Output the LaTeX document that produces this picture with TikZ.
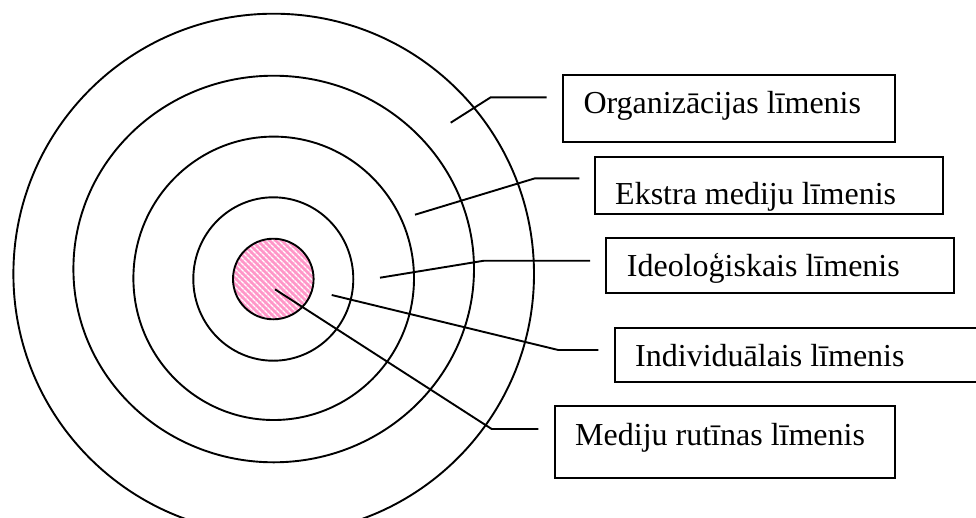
\documentclass[tikz,border=0pt]{standalone}
\usepackage{fontspec}
\setmainfont{Liberation Serif}
\usetikzlibrary{patterns.meta}
\definecolor{pinkfill}{RGB}{255,150,200}
\tikzset{
  ring/.style={draw=black, line width=1.9pt},
  lbox/.style={draw=black, line width=1.9pt, rectangle, inner sep=0pt, anchor=north west},
  lbl/.style={inner sep=0pt, anchor=base west, font=\fontsize{32}{38}\selectfont},
  conn/.style={draw=black, line width=1.9pt, line join=miter}
}
\begin{document}
\begin{tikzpicture}[x=1pt,y=-1pt]
\clip (0,0) rectangle (976,517);
\fill[white] (0,0) rectangle (976,517);
% inner hatched circle
\fill[pinkfill] (273.3,279) circle[radius=40.3pt];
\fill[pattern={Lines[angle=-45,distance=4pt,line width=1.6pt]}, pattern color=white] (273.3,279) circle[radius=40.3pt];
% rings
\draw[ring] (273.7,274) circle[radius=260.3pt];
\draw[ring] (273.7,269) ellipse[x radius=200.3pt, y radius=193.3pt];
\draw[ring] (273.7,278.3) ellipse[x radius=140.3pt, y radius=141.7pt];
\draw[ring] (273.3,279) ellipse[x radius=80pt, y radius=81.7pt];
\draw[ring] (273.3,279) circle[radius=40.3pt];
% boxes
\node[lbox, minimum width=331.7pt, minimum height=66.7pt] (orgbox) at (562.3,74) {};
\node[lbox, minimum width=347.4pt, minimum height=57pt] (ekbox) at (594.3,155.7) {};
\node[lbox, minimum width=347.7pt, minimum height=55pt] (idbox) at (605,237.3) {};
\node[lbox, minimum width=420pt, minimum height=54pt] (inbox) at (614,326.7) {};
\node[lbox, minimum width=340pt, minimum height=72.3pt] (mrbox) at (554,405) {};
% labels
\node[lbl] (orgtxt) at (583.3,113.3) {Organizācijas līmenis};
\node[lbl] (ektxt) at (615,204.3) {Ekstra mediju līmenis};
\node[lbl] (idtxt) at (626.7,276.7) {Ideoloģiskais līmenis};
\node[lbl] (intxt) at (635,366.7) {Individuālais līmenis};
\node[lbl] (mrtxt) at (575,445) {Mediju rutīnas līmenis};
% connector coordinates
\coordinate (o1) at (450.7,122.7); \coordinate (o2) at (490.7,97.3); \coordinate (o3) at (546.7,97.3);
\coordinate (e1) at (415,214.7); \coordinate (e2) at (535,178.3); \coordinate (e3) at (579.3,178.3);
\coordinate (d1) at (380,277.7); \coordinate (d2) at (484,260.7); \coordinate (d3) at (590,260.7);
\coordinate (i1) at (331.7,295); \coordinate (i2) at (558.3,350); \coordinate (i3) at (598.3,350);
\coordinate (m1) at (275,289.3); \coordinate (m2) at (491.7,429); \coordinate (m3) at (538.3,429);
\draw[conn] (o1) -- (o2) -- (o3);
\draw[conn] (e1) -- (e2) -- (e3);
\draw[conn] (d1) -- (d2) -- (d3);
\draw[conn] (i1) -- (i2) -- (i3);
\draw[conn] (m1) -- (m2) -- (m3);
\end{tikzpicture}
\end{document}
